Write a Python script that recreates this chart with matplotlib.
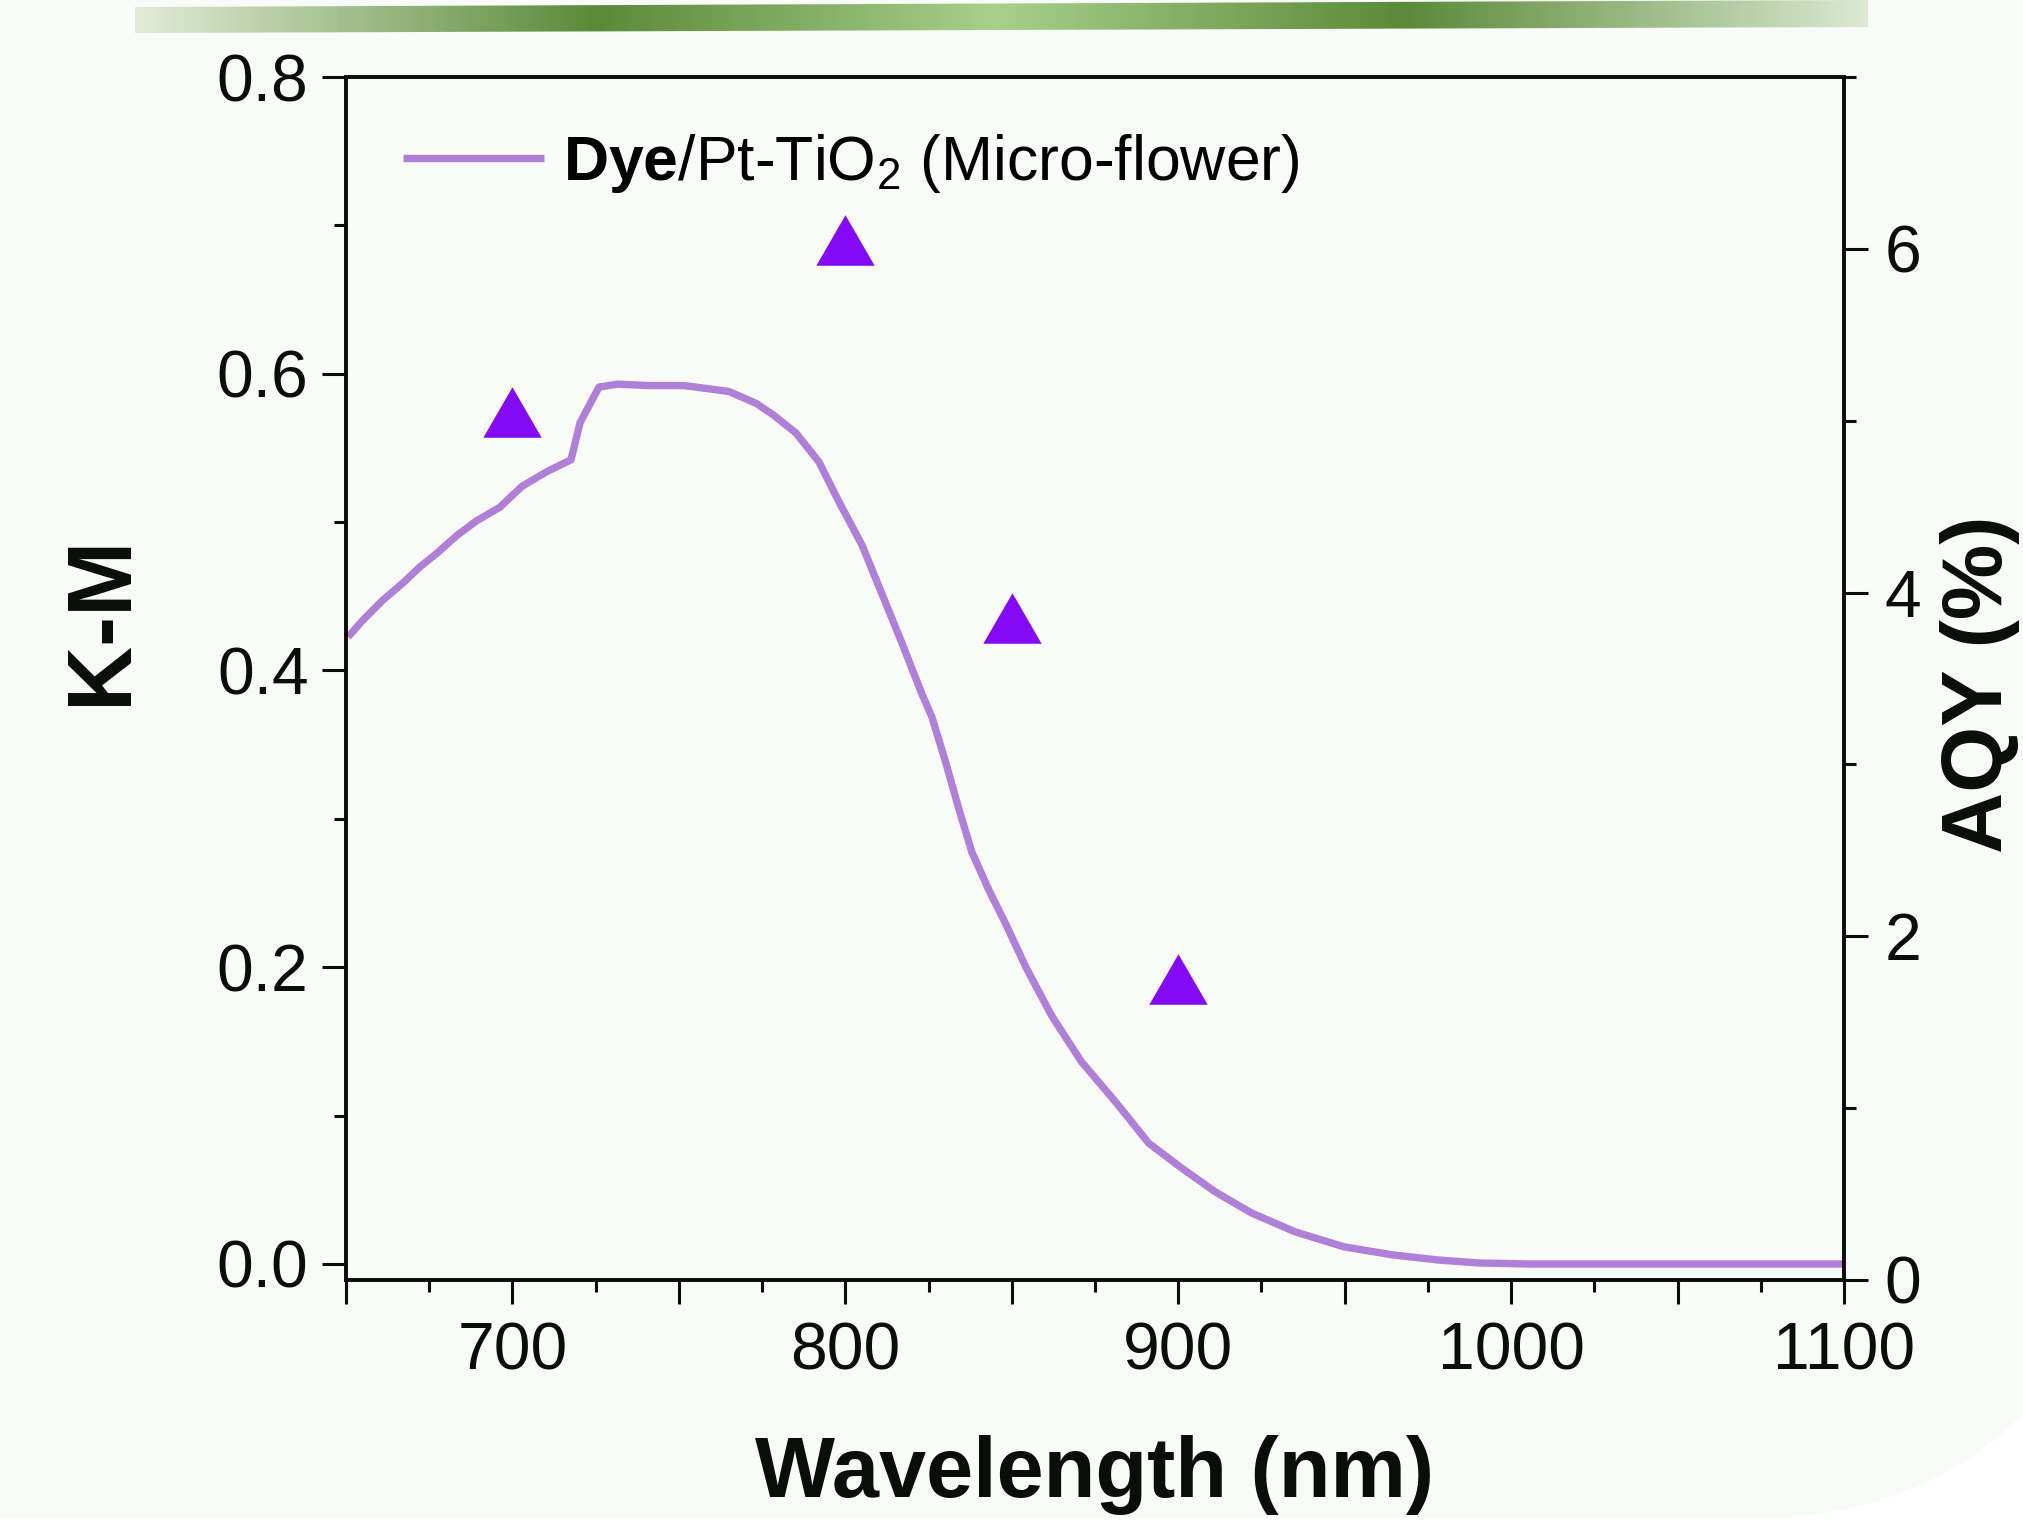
import numpy as np
import matplotlib
matplotlib.use('Agg')
import matplotlib.pyplot as plt
from matplotlib.colors import LinearSegmentedColormap
from matplotlib.patches import Polygon
from matplotlib.ticker import MultipleLocator, FuncFormatter

plt.rcParams['font.family'] = ['Liberation Sans', 'DejaVu Sans']
plt.rcParams['mathtext.fontset'] = 'custom'
plt.rcParams['mathtext.rm'] = 'Liberation Sans'
plt.rcParams['mathtext.bf'] = 'Liberation Sans:bold'
plt.rcParams['mathtext.it'] = 'Liberation Sans:italic'

# ---------------- data ----------------
wavelength = [650.6, 655.1, 661.1, 667.1, 672.2, 677.3, 683.3, 689.3, 696.2, 702.8,
              710.3, 717.6, 720.3, 726.0, 731.6, 741.0, 751.6, 758.5, 765.1, 773.2,
              778.5, 785.2, 792.1, 798.1, 805.0, 811.0, 817.0, 823.0, 826.0, 830.2,
              834.1, 838.0, 843.1, 848.2, 854.2, 862.0, 871.0, 881.2, 891.1, 901.0,
              911.2, 922.0, 935.2, 949.9, 964.5, 978.0, 990.0, 1005.0, 1100.0]
km = [0.4226, 0.434, 0.4475, 0.459, 0.4698, 0.479, 0.491, 0.501, 0.510, 0.524,
      0.534, 0.542, 0.567, 0.591, 0.593, 0.592, 0.592, 0.590, 0.588, 0.580,
      0.572, 0.560, 0.5405, 0.5136, 0.4846, 0.4516, 0.4185, 0.3842, 0.3687, 0.3377,
      0.3067, 0.2777, 0.2521, 0.2291, 0.2002, 0.1672, 0.1361, 0.1092, 0.0815, 0.0647,
      0.0485, 0.0344, 0.0216, 0.0115, 0.0061, 0.0027, 0.0007, 0.0, 0.0]

aqy_wavelength = [700, 800, 850, 900]
aqy = [5.05, 6.05, 3.85, 1.75]

legend_label = r'$\mathbf{Dye}$/Pt-TiO$_2$ (Micro-flower)'
x_label = 'Wavelength (nm)'
y_label_left = 'K-M'
y_label_right = 'AQY (%)'

# ---------------- figure ----------------
W, H = 2023, 1530
fig = plt.figure(figsize=(W / 100, H / 100), dpi=100, facecolor='white')

# background decoration (off-white panel with rounded bottom-right, green banner)
bg = fig.add_axes([0, 0, 1, 1], zorder=-10)
bg.set_xlim(0, W)
bg.set_ylim(H, 0)
bg.axis('off')
t = np.linspace(np.arccos(263 / 332), np.pi / 2, 60)
arc = np.column_stack([1760 + 332 * np.cos(t), 1250 + 268 * np.sin(t)])
verts = np.vstack([[[0, 0], [W, 0]], arc, [[0, 1518]]])
bg.add_patch(Polygon(verts, closed=True, facecolor='#f9fbf9', edgecolor='none', zorder=1))

cmap = LinearSegmentedColormap.from_list(
    'banner', [(0.0, '#e0ebd6'), (0.265, '#5a8a38'), (0.496, '#a8d08c'),
               (0.734, '#5a8a38'), (1.0, '#dae8d0')])
grad = np.linspace(0, 1, 512).reshape(1, -1)
im = bg.imshow(grad, cmap=cmap, aspect='auto', extent=(135, 1868, 34, 0),
               interpolation='bilinear', zorder=3)
banner = Polygon([[135, 7], [1868, 0], [1868, 27], [135, 33]], closed=True,
                 facecolor='none', edgecolor='none', transform=bg.transData)
bg.add_patch(banner)
im.set_clip_path(banner)
bg.set_xlim(0, W)
bg.set_ylim(H, 0)

# main axes
ax = fig.add_axes([346 / W, 1 - 1280 / H, (1844 - 346) / W, (1280 - 77) / H])
ax.set_facecolor('none')
ax2 = ax.twinx()

line_color = '#b07fd8'
tri_color = '#8409f5'

ax.plot(wavelength, km, color=line_color, lw=5.3, solid_joinstyle='round',
        solid_capstyle='butt', label=legend_label)

tri = [(-1, -0.866), (1, -0.866), (0, 0.866)]
ax2.plot(aqy_wavelength, aqy, ls='none', marker=tri, ms=42, color=tri_color,
         mec=tri_color, mew=0)

ax.set_xlim(650, 1100)
ax.set_ylim(-0.0108, 0.8)
ax2.set_ylim(0, 7)

ax.xaxis.set_major_locator(MultipleLocator(50))
ax.xaxis.set_minor_locator(MultipleLocator(25))
ax.xaxis.set_major_formatter(FuncFormatter(
    lambda v, p: f'{int(round(v))}' if int(round(v)) % 100 == 0 else ''))
ax.yaxis.set_major_locator(MultipleLocator(0.2))
ax.yaxis.set_minor_locator(MultipleLocator(0.1))
ax.yaxis.set_major_formatter(FuncFormatter(lambda v, p: f'{v:.1f}'))
ax2.yaxis.set_major_locator(MultipleLocator(2))
ax2.yaxis.set_minor_locator(MultipleLocator(1))
ax2.yaxis.set_major_formatter(FuncFormatter(lambda v, p: f'{int(round(v))}'))

tick_color = '#0a0d0a'
for a in (ax, ax2):
    for s in a.spines.values():
        s.set_linewidth(2.6)
        s.set_color(tick_color)

ax.tick_params(axis='both', which='major', direction='out', length=17, width=2.2,
               labelsize=47.5, color=tick_color, labelcolor=tick_color, top=False, right=False)
ax.tick_params(axis='both', which='minor', direction='out', length=8.6, width=2.2,
               color=tick_color, top=False, right=False)
ax.tick_params(axis='x', which='major', pad=13)
ax.tick_params(axis='y', which='major', pad=10)
ax2.tick_params(axis='y', which='major', direction='out', length=17, width=2.2,
                labelsize=47.5, color=tick_color, labelcolor=tick_color, pad=12)
ax2.tick_params(axis='y', which='minor', direction='out', length=8.6, width=2.2,
                color=tick_color)

ax.set_xlabel(x_label, fontsize=61, fontweight='bold', color=tick_color)
ax.xaxis.set_label_coords(0.5, -0.129)
ax.set_ylabel(y_label_left, fontsize=65, fontweight='bold', color=tick_color)
ax.yaxis.set_label_coords(-0.134, 0.549)
ax2.set_ylabel(y_label_right, fontsize=61, fontweight='bold', color=tick_color)
ax2.yaxis.set_label_coords(1.064, 0.495)

ax.legend(loc='center left', bbox_to_anchor=(0.038, 0.928), frameon=False,
          fontsize=45, handlelength=2.26, handletextpad=0.3, borderpad=0,
          borderaxespad=0)

fig.savefig('out.png', dpi=100, facecolor='white')
